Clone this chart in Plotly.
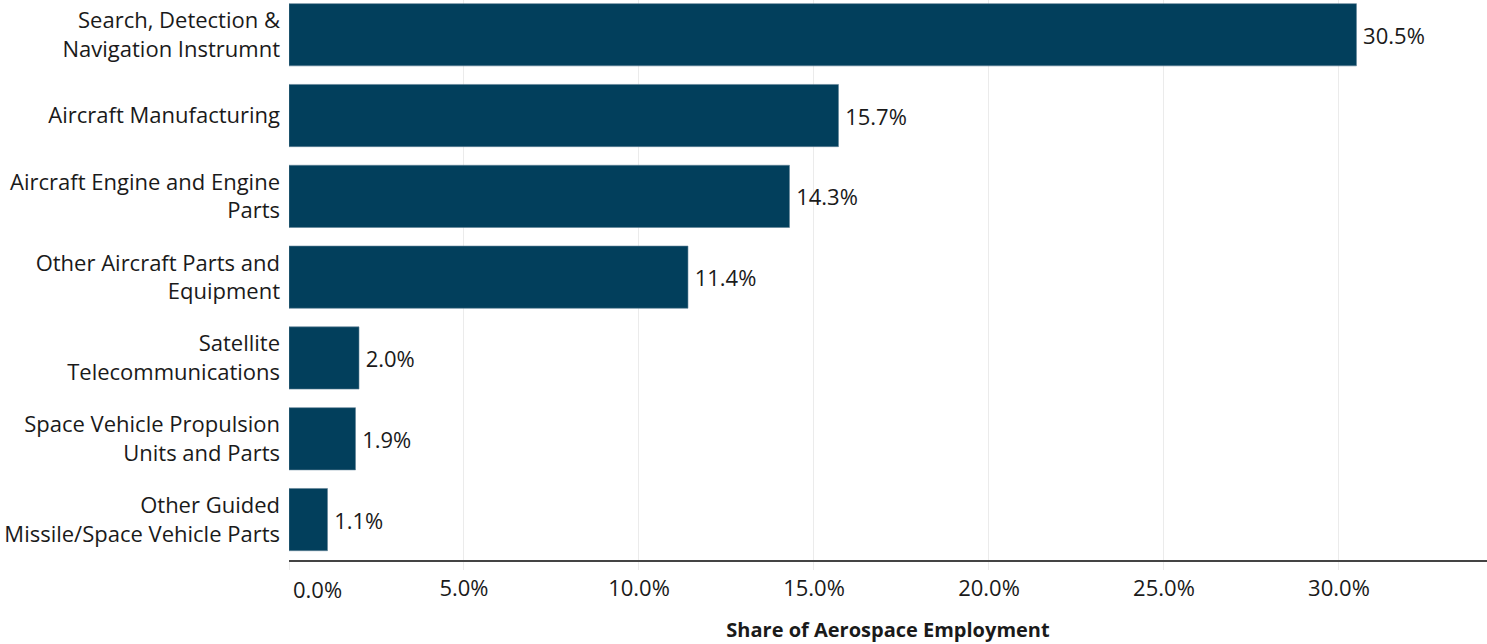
import plotly.graph_objects as go

categories = [
    "Search, Detection &<br>Navigation Instrumnt",
    "Aircraft Manufacturing",
    "Aircraft Engine and Engine<br>Parts",
    "Other Aircraft Parts and<br>Equipment",
    "Satellite<br>Telecommunications",
    "Space Vehicle Propulsion<br>Units and Parts",
    "Other Guided<br>Missile/Space Vehicle Parts",
]
shares = [30.5, 15.7, 14.3, 11.4, 2.0, 1.9, 1.1]
tick_vals = [5, 10, 15, 20, 25, 30]
tick_text = ["5.0%", "10.0%", "15.0%", "20.0%", "25.0%", "30.0%"]

FONT = "Open Sans"
TXT = "#1a1a1a"
FS = 22

fig = go.Figure()
fig.add_trace(go.Bar(
    x=shares,
    y=list(range(len(categories))),
    orientation="h",
    marker=dict(color="#023f5c", line=dict(color="#5f8296", width=0.6)),
    width=0.77,
    text=[f"\u2009{v:.1f}%" for v in shares],
    textposition="outside",
    textfont=dict(family=FONT, size=FS, color=TXT),
    cliponaxis=False,
    hoverinfo="skip",
))

fig.update_layout(
    width=1487, height=644,
    margin=dict(l=289, r=0, t=0, b=84),
    paper_bgcolor="white", plot_bgcolor="white",
    showlegend=False,
    font=dict(family=FONT, size=FS, color=TXT),
)
fig.update_xaxes(
    range=[0, 34.23],
    tickvals=[0] + tick_vals,
    ticktext=[""] + tick_text,
    showgrid=True, gridcolor="#ebebeb", gridwidth=1,
    zeroline=False,
    showline=True, linecolor="#444444", linewidth=2,
    ticks="outside", ticklen=8, tickcolor="#ebebeb", tickwidth=1,
    ticklabelstandoff=0,
    tickfont=dict(family=FONT, size=FS, color=TXT),
    title=dict(text="<b>Share of Aerospace Employment</b>",
               font=dict(family=FONT, size=20, color=TXT), standoff=22),
)
fig.update_yaxes(
    range=[6.5, -0.43],
    tickvals=list(range(len(categories))),
    ticktext=categories,
    showgrid=False, zeroline=False, showline=False,
    ticks="", ticklabelstandoff=8,
    tickfont=dict(family=FONT, size=FS, color=TXT),
)
fig.add_annotation(
    x=0, y=0, xref="x", yref="paper", yshift=-12,
    text="0.0%", showarrow=False, xanchor="left", yanchor="top", xshift=2,
    font=dict(family=FONT, size=FS, color=TXT),
)
fig.write_html(
    "out.html",
    config={"displayModeBar": False},
    post_script="document.body.style.margin='0';document.body.style.overflow='hidden';",
)
